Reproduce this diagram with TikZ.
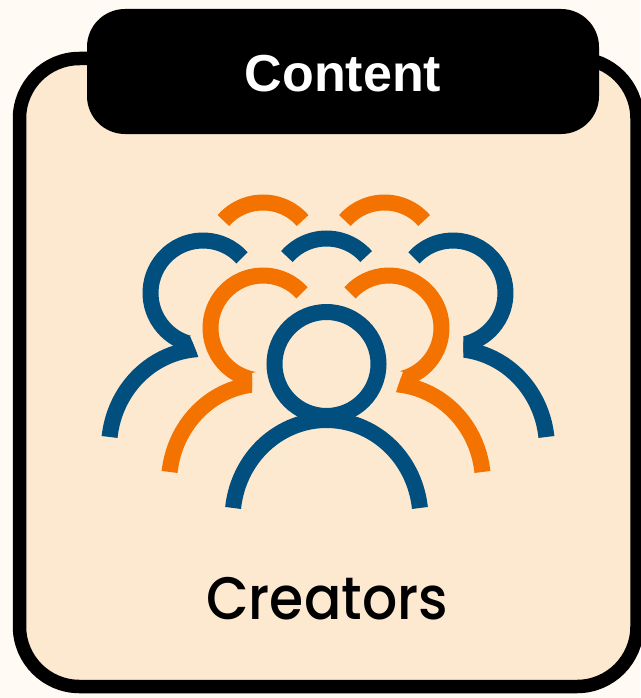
\documentclass[tikz,border=0pt]{standalone}
\usepackage{fontspec}
\setmainfont{Liberation Sans}
\newfontfamily\labelfont[UprightFont=* Medium]{Poppins}
\definecolor{pagebg}{HTML}{FFFAF4}
\definecolor{cardbg}{HTML}{FDE9D0}
\definecolor{blueink}{HTML}{014F7F}
\definecolor{orangeink}{HTML}{F37200}
\tikzset{
  card/.style={draw=black,line width=13.5pt,fill=cardbg,rounded corners=60pt},
  tabbox/.style={fill=black,rounded corners=38pt},
  strokeb/.style={line width=16pt,line cap=butt,draw=blueink},
  strokeo/.style={line width=16pt,line cap=butt,draw=orangeink},
}
% #1 style, #2 cx, #3 cy, #4 start, #5 end
\newcommand{\headarc}[5]{\draw[#1] ({#2+52.5*cos(#4)},{#3-52.5*sin(#4)}) arc[start angle=-#4,end angle=-#5,radius=52.5];}
% body arc in y-down coordinates, elliptical
\newcommand{\bodyarc}[5]{\draw[#1] ({#2+94*cos(#4)},{#3+155-99*sin(#4)}) arc[start angle=-#4,end angle=-#5,x radius=94,y radius=99];}
\begin{document}
\begin{tikzpicture}[x=1pt,y=-1pt]
\useasboundingbox (0,0) rectangle (640,698);
\fill[pagebg] (0,0) rectangle (640,698);
\draw[card] (19.5,58.5) rectangle (637,686.5);
\fill[tabbox] (87,9) rectangle (599,134);
\node[text=white,font=\bfseries\fontsize{52}{52}\selectfont,anchor=base] (title) at (343,92) {Content};
\node[text=black,font=\labelfont\fontsize{60}{60}\selectfont,anchor=base,xscale=0.92] (label) at (327,619) {Creators};
% back row
\headarc{strokeo}{263}{255}{41}{139}
\headarc{strokeo}{384.5}{255}{41}{139}
\headarc{strokeb}{326.5}{291}{41}{139}
% left blue
\begin{scope}
\clip (0,0) -- (300,0) -- (300,310) -- (190,336) -- (198,356) -- (198,470) -- (0,470) -- cycle;
\headarc{strokeb}{203}{293}{42}{285}
\bodyarc{strokeb}{203}{293}{173.6}{80}
\end{scope}
% right blue
\begin{scope}
\clip (640,0) -- (340,0) -- (340,310) -- (463.3,336) -- (463.3,470) -- (640,470) -- cycle;
\headarc{strokeb}{453}{293}{138}{-105}
\bodyarc{strokeb}{453}{293}{6.4}{100}
\end{scope}
% left orange
\begin{scope}
\clip (100,100) -- (360,100) -- (360,345) -- (252,373) -- (252,500) -- (100,500) -- cycle;
\headarc{strokeo}{263}{328}{42}{285}
\bodyarc{strokeo}{263}{328}{173.6}{80}
\end{scope}
% right orange
\begin{scope}
\clip (540,100) -- (300,100) -- (300,345) -- (403,372) -- (396,392) -- (396,500) -- (540,500) -- cycle;
\headarc{strokeo}{389}{328}{138}{-105}
\bodyarc{strokeo}{389}{328}{6.4}{100}
\end{scope}
% central
\draw[strokeb] (326.5,364) circle[radius=52];
\bodyarc{strokeb}{326.5}{364}{173.6}{6.4}
\end{tikzpicture}
\end{document}
